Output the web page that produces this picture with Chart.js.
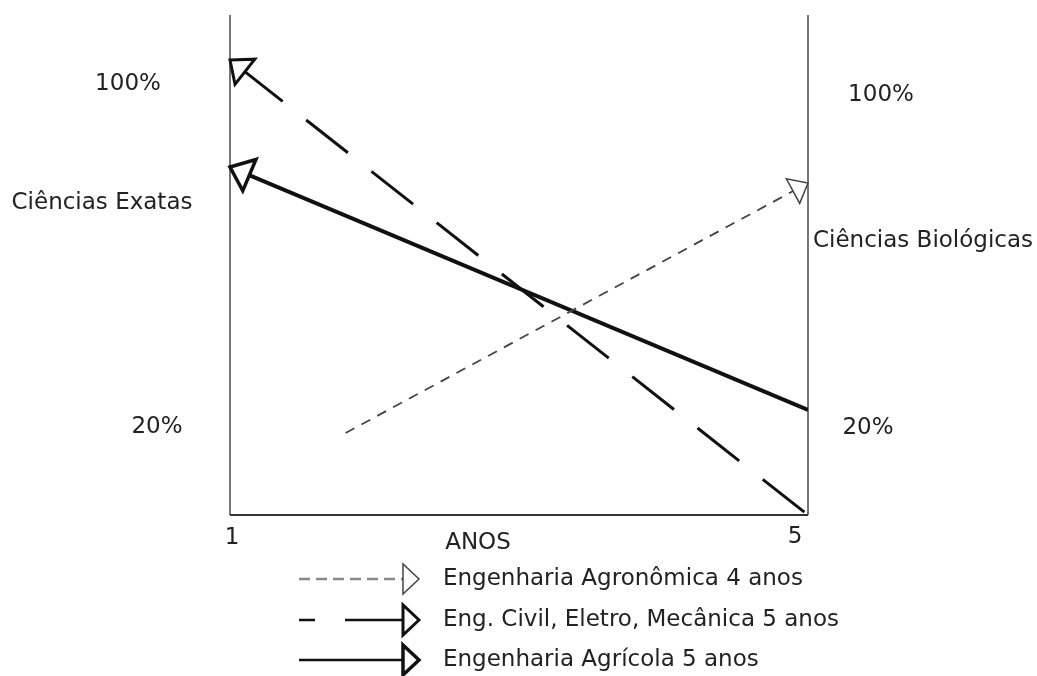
<!DOCTYPE html>
<html>
<head>
<meta charset="utf-8">
<script src="https://cdn.jsdelivr.net/npm/chart.js@4.4.1/dist/chart.umd.min.js"></script>
<style>
    body { margin: 0; background: #fff; }
    #wrap { width: 1037px; height: 676px; }
</style>
</head>
<body>
<div id="wrap"><canvas id="chart" width="1037" height="676"></canvas></div>
<script>
// anos (x) and relative share (y, 0-100 scale of the drawing)
const anos = [1, 5];
const agronomicaAnos = [1.8, 5];
const agronomicaPct = [16.4, 66.4];
const civilPct = [91, 0];
const agricolaPct = [69.6, 21];

const seriesNames = [
    'Engenharia Agronômica 4 anos',
    'Eng. Civil, Eletro, Mecânica 5 anos',
    'Engenharia Agrícola 5 anos'
];

const leftLabels = ['100%', 'Ciências Exatas', '20%'];
const rightLabels = ['100%', 'Ciências Biológicas', '20%'];
const xLabels = ['1', 'ANOS', '5'];

const FONT = '23px "DejaVu Sans", Verdana, sans-serif';

const toPoints = (xs, ys) => xs.map((x, i) => ({ x: x, y: ys[i] }));

// open triangle arrow head, tip on the point
const drawArrow = (ctx, tip, from, len, half, color, width) => {
    const a = Math.atan2(tip.y - from.y, tip.x - from.x);
    const bx = tip.x - len * Math.cos(a);
    const by = tip.y - len * Math.sin(a);
    const nx = -Math.sin(a) * half;
    const ny = Math.cos(a) * half;
    ctx.save();
    ctx.setLineDash([]);
    ctx.beginPath();
    ctx.moveTo(tip.x, tip.y);
    ctx.lineTo(bx + nx, by + ny);
    ctx.lineTo(bx - nx, by - ny);
    ctx.closePath();
    ctx.fillStyle = '#fff';
    ctx.fill();
    ctx.lineWidth = width;
    ctx.lineJoin = 'miter';
    ctx.strokeStyle = color;
    ctx.stroke();
    ctx.restore();
};

const diagramPlugin = {
    id: 'diagram',
    beforeDatasetsDraw(chart) {
        const { ctx, chartArea: ca } = chart;
        ctx.save();
        // vertical axes
        ctx.strokeStyle = '#777';
        ctx.lineWidth = 2;
        ctx.beginPath();
        ctx.moveTo(ca.left, ca.top);
        ctx.lineTo(ca.left, ca.bottom);
        ctx.moveTo(ca.right, ca.top);
        ctx.lineTo(ca.right, ca.bottom);
        ctx.stroke();
        // base line
        ctx.strokeStyle = '#333';
        ctx.beginPath();
        ctx.moveTo(ca.left, ca.bottom);
        ctx.lineTo(ca.right, ca.bottom);
        ctx.stroke();
        ctx.restore();
    },
    afterDatasetsDraw(chart) {
        const { ctx } = chart;
        chart.data.datasets.forEach((ds, i) => {
            const pts = chart.getDatasetMeta(i).data;
            if (ds.arrowAt === 'start') {
                drawArrow(ctx, pts[0], pts[1], ds.arrowLen, ds.arrowHalf, ds.borderColor, ds.arrowWidth);
            } else {
                drawArrow(ctx, pts[pts.length - 1], pts[pts.length - 2], ds.arrowLen, ds.arrowHalf, ds.borderColor, ds.arrowWidth);
            }
        });
    },
    afterDraw(chart) {
        const { ctx } = chart;
        ctx.save();
        ctx.font = FONT;
        ctx.fillStyle = '#222';
        ctx.textBaseline = 'middle';

        ctx.textAlign = 'center';
        ctx.fillText(leftLabels[0], 128, 84);
        ctx.fillText(leftLabels[1], 102, 203);
        ctx.fillText(leftLabels[2], 157, 427);
        ctx.fillText(rightLabels[0], 881, 95);
        ctx.fillText(rightLabels[2], 868, 428);
        ctx.textAlign = 'left';
        ctx.fillText(rightLabels[1], 813, 241);

        ctx.textAlign = 'center';
        ctx.fillText(xLabels[0], 232, 538);
        ctx.fillText(xLabels[1], 478, 543);
        ctx.fillText(xLabels[2], 795, 537);

        // legend
        const rows = [579, 620, 660];
        chart.data.datasets.forEach((ds, r) => {
            const y = rows[r];
            ctx.save();
            ctx.strokeStyle = ds.legendColor;
            ctx.lineWidth = ds.legendWidth;
            ctx.setLineDash(ds.legendDash);
            ctx.beginPath();
            ctx.moveTo(299, y);
            ctx.lineTo(404, y);
            ctx.stroke();
            ctx.restore();
            drawArrow(ctx, { x: 419, y: y }, { x: 299, y: y }, 16, 15, ds.borderColor, ds.arrowWidth);
            ctx.textAlign = 'left';
            ctx.fillStyle = '#222';
            ctx.fillText(ds.label, 443, y);
        });
        ctx.restore();
    }
};

new Chart(document.getElementById('chart'), {
    type: 'scatter',
    data: {
        datasets: [
            {
                label: seriesNames[0],
                data: toPoints(agronomicaAnos, agronomicaPct),
                showLine: true,
                borderColor: '#444',
                borderWidth: 1.8,
                borderDash: [10, 8],
                pointRadius: 0,
                arrowAt: 'end',
                arrowLen: 17,
                arrowHalf: 14,
                arrowWidth: 1.5,
                legendColor: '#888',
                legendWidth: 2.5,
                legendDash: [11, 6]
            },
            {
                label: seriesNames[1],
                data: toPoints(anos, civilPct),
                showLine: true,
                borderColor: '#111',
                borderWidth: 3,
                borderDash: [53, 30],
                borderDashOffset: 69,
                pointRadius: 0,
                arrowAt: 'start',
                arrowLen: 19,
                arrowHalf: 16,
                arrowWidth: 3,
                legendColor: '#111',
                legendWidth: 2.5,
                legendDash: [16, 30, 60]
            },
            {
                label: seriesNames[2],
                data: toPoints(anos, agricolaPct),
                showLine: true,
                borderColor: '#111',
                borderWidth: 4,
                pointRadius: 0,
                arrowAt: 'start',
                arrowLen: 21,
                arrowHalf: 17,
                arrowWidth: 3.5,
                legendColor: '#111',
                legendWidth: 2.5,
                legendDash: []
            }
        ]
    },
    options: {
        responsive: false,
        animation: false,
        layout: {
            padding: { left: 230, right: 229, top: 15, bottom: 161 }
        },
        plugins: {
            legend: { display: false },
            tooltip: { enabled: false }
        },
        scales: {
            x: { type: 'linear', min: 1, max: 5, display: false },
            y: { min: 0, max: 100, display: false }
        }
    },
    plugins: [diagramPlugin]
});
</script>
</body>
</html>
